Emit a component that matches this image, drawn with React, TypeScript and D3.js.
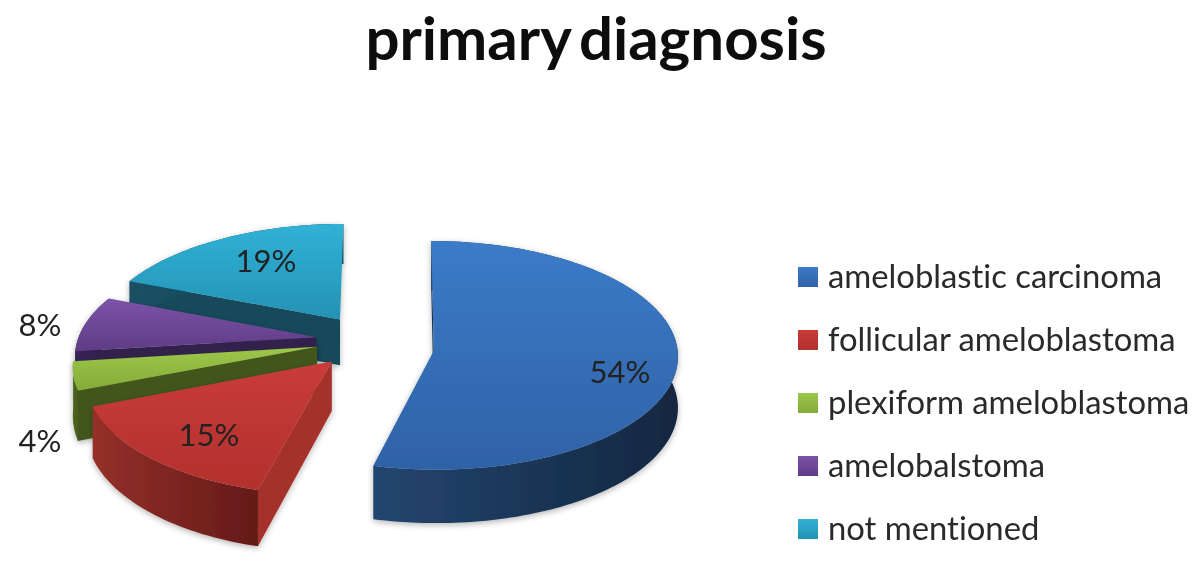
import React from "react";
import * as d3 from "d3";

const titleText = "primary diagnosis";
const categories = ["ameloblastic carcinoma", "follicular ameloblastoma", "plexiform ameloblastoma", "amelobalstoma", "not mentioned"];
const shares = [54, 15, 4, 8, 19];
const shareLabels = ["54%", "15%", "4%", "8%", "19%"];

const topColors = [["#3b7bc8", "#2f62a6"], ["#c93c39", "#b2302d"], ["#9cc84a", "#85ab38"], ["#7d52a8", "#5f3c85"], ["#30b2d6", "#2492b4"]];
const rimColors = [["#24466f", "#122740"], ["#943029", "#641a18"], ["#4f6a1c", "#45581a"], ["#3a2558", "#2e1c4a"], ["#1a5063", "#154658"]];
const edgeColors = ["#16304f", "#a5302c", "#43561a", "#32204c", "#16485a"];
const explode = [0.265, 0.2, 0.2, 0.2, 0.2];
const radius = [0.99, 0.97, 0.97, 0.97, 1.0];
const perspective = [0.04, 0.13, 0.15, 0.15, 0.15];
const depth = [1.09, 1.03, 1, 1, 1];
const nudgeX = [4, 0, 0, 0, 2];
const nudgeY = [6, 3, 0, -1, -3];
const labelPos = [[620, 383], [209, 446], [40, 452], [40, 336], [266, 272]];
const paintOrder = [4, 3, 2, 1, 0];

const W = 1200, H = 568;
const cx = 365, cy = 341, A = 246, B = 115, Z = 47;

type Pt = [number, number];
const project = (x: number, y: number, z: number, p: number): Pt => {
  const w = 1 / (1 - p * y);
  return [cx + A * x * w, cy + B * y * w + Z * z * w];
};
const line = d3.line<Pt>();
const pie = d3.pie<number>().sort(null);
const arcs = pie(shares);

export default function App() {
  const slices = arcs.map((a, i) => {
    const mid = (a.startAngle + a.endAngle) / 2;
    const ox = explode[i] * Math.sin(mid), oy = -explode[i] * Math.cos(mid);
    const pt = (r: number, t: number, z: number): Pt => {
      const rr = r * radius[i];
      const q = project(ox + rr * Math.sin(t), oy - rr * Math.cos(t), z * depth[i], perspective[i]);
      return [q[0] + nudgeX[i], q[1] + nudgeY[i]];
    };
    const n = Math.max(6, Math.ceil((a.endAngle - a.startAngle) * 40));
    const ts = d3.range(n + 1).map((k) => a.startAngle + ((a.endAngle - a.startAngle) * k) / n);
    const top = line([pt(0, 0, 0), ...ts.map((t) => pt(1, t, 0))])! + "Z";
    const rim = line([...ts.map((t) => pt(1, t, 0)), ...ts.slice().reverse().map((t) => pt(1, t, 1))])! + "Z";
    const edgeAngle = i === 0 ? 0 : a.startAngle;
    const edge = line([pt(0, 0, 0), pt(1, edgeAngle, 0), pt(1, edgeAngle, 1), pt(0, 0, 1)])! + "Z";
    return { i, top, rim, edge };
  });

  return (
    <svg width={W} height={H} style={{ position: "absolute", left: 0, top: 0, background: "#fff", fontVariantLigatures: "none" }} fontFamily="Lato, 'Open Sans', sans-serif">
      <defs>
        <filter id="soft" x="-10%" y="-10%" width="120%" height="125%">
          <feGaussianBlur in="SourceAlpha" stdDeviation="3" />
          <feOffset dx="0" dy="2" />
          <feComponentTransfer><feFuncA type="linear" slope="0.3" /></feComponentTransfer>
          <feMerge><feMergeNode /><feMergeNode in="SourceGraphic" /></feMerge>
        </filter>
        <filter id="scan" x="0" y="0" width="100%" height="100%">
          <feGaussianBlur stdDeviation="0.55" />
        </filter>
        {categories.map((_, i) => (
          <React.Fragment key={i}>
            <linearGradient id={`top${i}`} x1="0" y1="0" x2="0" y2="1">
              <stop offset="0" stopColor={topColors[i][0]} />
              <stop offset="1" stopColor={topColors[i][1]} />
            </linearGradient>
            <linearGradient id={`rim${i}`} x1="0" y1="0" x2="1" y2="0">
              <stop offset="0" stopColor={rimColors[i][0]} />
              <stop offset="1" stopColor={rimColors[i][1]} />
            </linearGradient>
          </React.Fragment>
        ))}
      </defs>

      <g filter="url(#scan)">
        <rect width={W} height={H} fill="#fff" />
        <text x={596} y={60} textAnchor="middle" fontSize={60} fontWeight={700} fill="#111" wordSpacing={-6}>{titleText}</text>

        {paintOrder.map((k) => {
          const s = slices[k];
          return (
            <g key={k} filter="url(#soft)">
              <path d={s.edge} fill={edgeColors[k]} />
              <path d={s.rim} fill={`url(#rim${k})`} />
              <path d={s.top} fill={`url(#top${k})`} />
            </g>
          );
        })}

        {shareLabels.map((t, i) => (
          <text key={t} x={labelPos[i][0]} y={labelPos[i][1]} textAnchor="middle" fontSize={31} fill="#222">{t}</text>
        ))}

        {categories.map((c, i) => {
          const y = d3.scaleLinear().domain([0, 4]).range([267, 519])(i);
          return (
            <g key={c}>
              <rect x={798} y={y} width={20} height={20} fill={`url(#top${i})`} />
              <text x={828} y={y + 21} fontSize={32.8} fill="#2a2a2a">{c}</text>
            </g>
          );
        })}
      </g>
    </svg>
  );
}
